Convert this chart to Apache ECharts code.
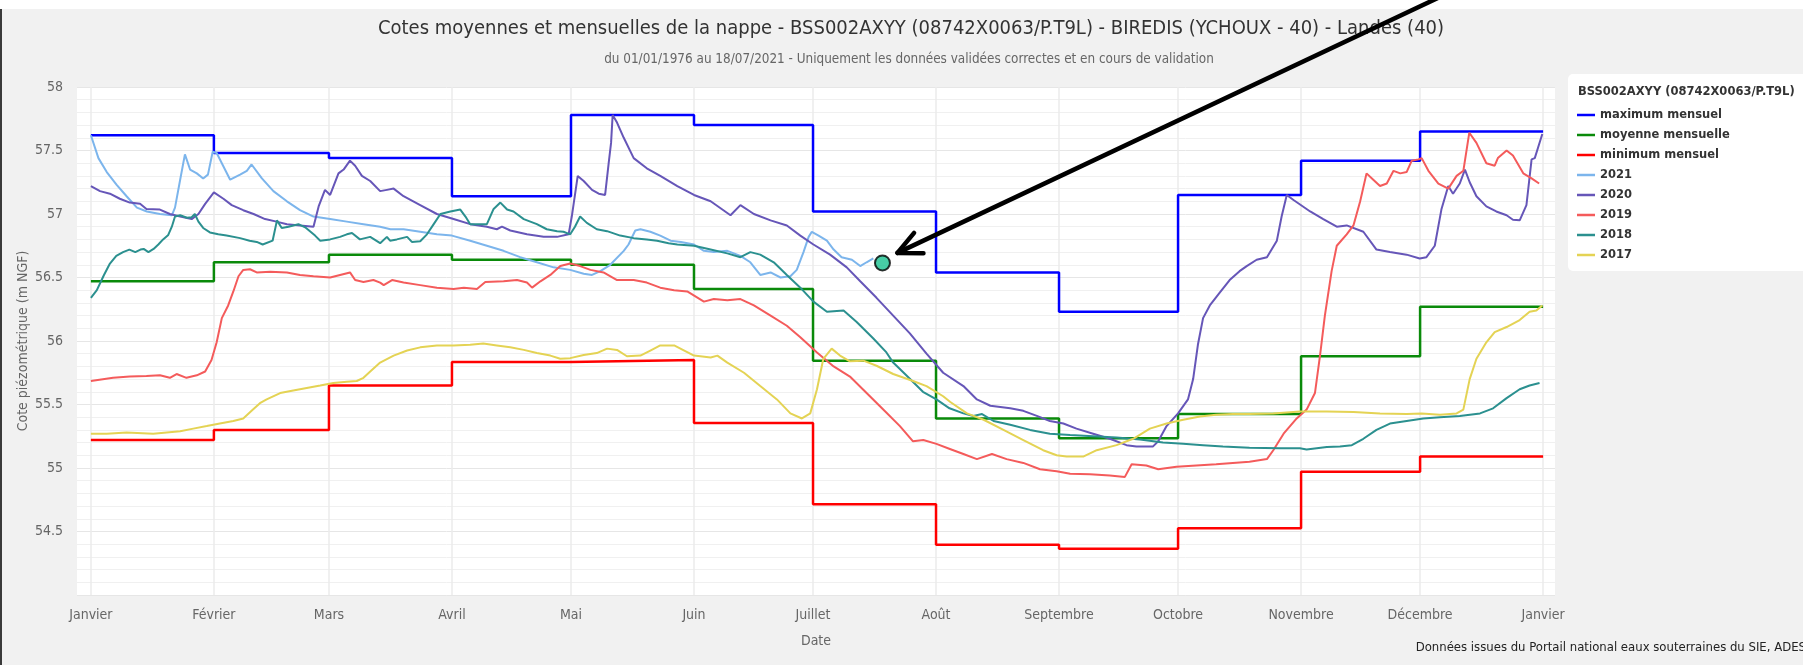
<!DOCTYPE html>
<html lang="fr">
<head>
    <meta charset="UTF-8">
    <title>Cotes moyennes et mensuelles de la nappe - BSS002AXYY</title>
    <script src="https://cdn.jsdelivr.net/npm/echarts@6/dist/echarts.min.js"></script>
    <style>
        html, body { margin: 0; padding: 0; background: #f1f1f1; }
        #chart { width: 1803px; height: 665px; }
    </style>
</head>
<body>
<div id="chart"></div>
<script>
    // jours depuis le 1er janvier (annee bissextile), debut de chaque mois
    const monthStarts = [0, 31, 60, 91, 121, 152, 182, 213, 244, 274, 305, 335, 366];
    const monthNames = ['Janvier', 'Février', 'Mars', 'Avril', 'Mai', 'Juin', 'Juillet',
        'Août', 'Septembre', 'Octobre', 'Novembre', 'Décembre', 'Janvier'];

    const yTicks = [54, 54.5, 55, 55.5, 56, 56.5, 57, 57.5, 58];

    // valeurs mensuelles (m NGF)
    const maxMensuel = [57.62, 57.48, 57.44, 57.14, 57.78, 57.70, 57.02, 56.54, 56.23, 57.15, 57.42, 57.65];
    const moyMensuelle = [56.47, 56.62, 56.68, 56.64, 56.60, 56.41, 55.845, 55.39, 55.235, 55.425, 55.88, 56.27];
    const minMensuel = [55.22, 55.30, 55.65, 55.835, 55.85, 55.355, 54.715, 54.395, 54.365, 54.525, 54.97, 55.09];

    // chroniques annuelles : [jour, cote]
    const y2021 = [[0,57.62],[1.9,57.44],[4,57.33],[6.5,57.23],[9,57.14],[11.6,57.05],[14.1,57.02],[17.4,57.0],[20.4,56.99],[21.2,57.05],[22.5,57.27],[23.7,57.47],[25,57.35],[26.7,57.32],[28.3,57.28],[29.5,57.31],[30.7,57.49],[31.7,57.48],[33,57.4],[35.1,57.27],[37.6,57.31],[39.3,57.34],[40.5,57.39],[43.1,57.28],[46,57.18],[49.4,57.1],[52.7,57.03],[56.1,56.98],[60.3,56.96],[64.5,56.94],[68.7,56.92],[72.9,56.9],[75.5,56.88],[78.8,56.88],[83,56.86],[87.2,56.84],[91,56.83],[95.6,56.79],[99.8,56.75],[104,56.71],[108.2,56.66],[112.4,56.62],[116.6,56.58],[120.8,56.56],[124.2,56.53],[126.3,56.52],[128.4,56.55],[130.9,56.6],[134.3,56.71],[135.5,56.76],[137.2,56.87],[138.5,56.88],[141,56.86],[143.5,56.83],[146.1,56.79],[148.7,56.78],[152,56.76],[154.5,56.71],[157,56.7],[160.4,56.71],[163.7,56.67],[166.2,56.62],[168.7,56.52],[171.3,56.54],[173.8,56.5],[176.3,56.51],[177.9,56.56],[179.6,56.7],[180.9,56.82],[181.7,56.86],[183.4,56.83],[185.5,56.79],[187.2,56.72],[189.2,56.66],[191.8,56.64],[193.9,56.59],[195.5,56.62],[197.2,56.65]];

    const y2020 = [[0,57.22],[2.3,57.18],[4.8,57.16],[7.3,57.12],[9.8,57.09],[12.4,57.08],[14,57.04],[17.4,57.035],[19.9,57.0],[22.5,56.98],[25.4,56.96],[27.1,57.0],[28.8,57.08],[31,57.17],[33.4,57.12],[35.5,57.07],[38.4,57.03],[41,57.0],[43.9,56.96],[46.8,56.94],[49.4,56.92],[52.7,56.91],[56.1,56.9],[57.4,57.06],[59,57.19],[60.3,57.15],[62.4,57.32],[63.7,57.35],[65.3,57.42],[66.6,57.38],[68.3,57.3],[70.4,57.26],[72.9,57.18],[74.6,57.19],[76.3,57.2],[78.8,57.14],[83,57.07],[87.2,57.0],[91.4,56.96],[95.6,56.92],[99.8,56.9],[102.3,56.88],[103.6,56.9],[105.7,56.87],[109.9,56.84],[114.1,56.82],[117.5,56.82],[120.4,56.84],[121.2,56.98],[122.7,57.3],[124.2,57.26],[126.3,57.19],[128,57.16],[129.6,57.15],[130.5,57.4],[131.1,57.56],[131.5,57.78],[132.6,57.72],[134.3,57.6],[136.8,57.44],[140.1,57.36],[143.5,57.3],[147.8,57.22],[152,57.15],[156.2,57.1],[161.2,56.99],[163.7,57.07],[167.1,57.0],[171.3,56.95],[175.4,56.91],[178.8,56.83],[182.1,56.76],[186.3,56.68],[190.5,56.58],[193.9,56.47],[198,56.34],[202.2,56.2],[206.4,56.06],[210.6,55.9],[214.8,55.75],[219.9,55.645],[223.3,55.54],[226.7,55.49],[231.7,55.47],[235,55.45],[238.4,55.41],[241.7,55.37],[245.1,55.35],[248.4,55.31],[252.6,55.27],[256.8,55.23],[261,55.18],[263.5,55.17],[267.7,55.17],[269,55.21],[271.1,55.33],[274,55.43],[276.5,55.54],[277.8,55.7],[279,55.97],[280.3,56.18],[282,56.28],[284.5,56.38],[287,56.48],[289.5,56.55],[291.3,56.59],[293.8,56.64],[296.4,56.66],[298.9,56.79],[300.1,56.98],[301.4,57.15],[303.1,57.11],[307.3,57.02],[310.6,56.96],[314,56.9],[316.5,56.91],[320.7,56.86],[324,56.72],[327.4,56.7],[331.6,56.68],[334.9,56.65],[336.6,56.66],[338.7,56.75],[340.4,57.04],[342.1,57.22],[343.3,57.16],[345,57.24],[346.3,57.35],[347.5,57.25],[349.2,57.14],[351.7,57.06],[354.2,57.02],[356.8,56.99],[358.4,56.955],[360.1,56.95],[361.8,57.07],[363.1,57.43],[363.9,57.44],[364.7,57.52],[365.8,57.63]];

    const y2019 = [[0,55.685],[5.6,55.71],[9.8,55.72],[14,55.725],[17.4,55.73],[19.9,55.71],[21.6,55.74],[24.1,55.71],[26.7,55.73],[28.8,55.76],[30.4,55.85],[31.7,55.99],[33,56.18],[34.6,56.28],[35.9,56.39],[37.2,56.51],[38.4,56.56],[40.1,56.565],[41.8,56.54],[45.2,56.545],[49.4,56.54],[52.7,56.52],[56.1,56.51],[60.3,56.5],[62.8,56.52],[65.3,56.54],[66.6,56.48],[68.7,56.465],[71.2,56.48],[72.9,56.46],[73.8,56.44],[75.9,56.48],[78.8,56.46],[83,56.44],[87.2,56.42],[91.4,56.41],[94,56.42],[97.3,56.41],[99.4,56.465],[104,56.47],[107.4,56.48],[109.9,56.46],[111.2,56.42],[113.3,56.47],[115.8,56.52],[118.3,56.59],[120.8,56.61],[123.3,56.59],[125.9,56.56],[129.2,56.54],[132.6,56.48],[136.8,56.48],[140.1,56.46],[143.5,56.42],[147,56.4],[150.3,56.39],[154.5,56.31],[157,56.33],[160.4,56.32],[163.7,56.33],[167.1,56.28],[171.3,56.2],[175.4,56.12],[178.8,56.03],[183,55.91],[187.2,55.8],[191.3,55.72],[195.5,55.59],[199.7,55.46],[203.9,55.33],[207.2,55.21],[209.8,55.22],[213.1,55.19],[216.5,55.15],[219.9,55.11],[223.3,55.07],[227.1,55.11],[230.8,55.07],[235,55.04],[239.2,54.99],[243.4,54.975],[246.8,54.955],[251.8,54.95],[256.8,54.94],[260.6,54.93],[262.3,55.03],[266,55.02],[269,54.99],[273.6,55.01],[278.6,55.02],[283.6,55.03],[287.8,55.04],[292,55.05],[296.4,55.07],[298,55.14],[300.6,55.27],[303.9,55.39],[306.4,55.46],[308.5,55.59],[309.8,55.89],[311,56.2],[312.7,56.55],[314,56.75],[316.5,56.84],[318.2,56.91],[319.9,57.1],[321.5,57.32],[323.2,57.27],[324.9,57.22],[326.6,57.24],[328.3,57.34],[330,57.32],[331.6,57.33],[332.9,57.42],[334.6,57.43],[335.4,57.44],[337.1,57.34],[339.6,57.24],[342.1,57.2],[344.2,57.3],[345.9,57.34],[347.4,57.64],[349.2,57.56],[351.7,57.4],[353.8,57.38],[354.6,57.44],[356.8,57.5],[358.4,57.46],[361,57.32],[363.1,57.28],[365,57.24]];

    const y2018 = [[0,56.34],[1.5,56.4],[3.3,56.52],[4.8,56.61],[6.4,56.67],[8.1,56.7],[9.7,56.72],[11.2,56.7],[12.5,56.72],[13.3,56.725],[14.5,56.7],[15.8,56.725],[17,56.76],[18.2,56.8],[19.5,56.835],[20.4,56.9],[21.2,56.98],[22.5,56.99],[24.2,56.97],[25.4,56.975],[26.2,57.0],[27.1,56.94],[28.3,56.89],[30,56.855],[32.1,56.84],[34.2,56.83],[37.6,56.81],[40,56.79],[41.8,56.78],[43.3,56.76],[45.8,56.79],[46.9,56.95],[48.1,56.89],[49.8,56.9],[52.3,56.92],[54,56.895],[56.5,56.83],[57.8,56.79],[60.3,56.8],[62.8,56.82],[64.5,56.84],[65.8,56.85],[67.8,56.8],[70.4,56.82],[72.9,56.77],[74.6,56.82],[75.4,56.79],[77.1,56.8],[79.7,56.82],[80.9,56.78],[83,56.785],[84.7,56.84],[86.4,56.92],[88.1,57.0],[90.6,57.02],[93.1,57.035],[94.4,56.98],[95.6,56.92],[97.3,56.92],[99.8,56.92],[101.5,57.04],[103.2,57.09],[104.9,57.035],[106.5,57.02],[109.1,56.96],[112.4,56.92],[114.9,56.88],[117.5,56.865],[119.1,56.86],[120.8,56.84],[122,56.9],[123.3,56.98],[125,56.93],[127.5,56.88],[130.1,56.865],[133.4,56.83],[136.8,56.81],[140.1,56.8],[142.7,56.79],[145.6,56.77],[147.8,56.76],[152,56.75],[156.2,56.72],[160.4,56.69],[163.7,56.66],[166.2,56.7],[168.7,56.68],[172.1,56.62],[175.4,56.52],[178.8,56.42],[182.1,56.31],[185.5,56.23],[189.7,56.24],[193,56.15],[197.2,56.02],[200.5,55.91],[202.2,55.83],[205.5,55.73],[209.7,55.6],[213.1,55.54],[216.4,55.47],[219.9,55.43],[222.4,55.41],[224.6,55.425],[227.5,55.37],[231.7,55.34],[236.7,55.3],[241.7,55.27],[246.8,55.26],[252.6,55.25],[258.5,55.24],[264.4,55.225],[270.2,55.2],[275.3,55.19],[280.3,55.18],[285.3,55.17],[292,55.16],[299.7,55.155],[304.7,55.155],[306.4,55.145],[311.5,55.165],[314.8,55.17],[317.8,55.18],[320.7,55.23],[324,55.3],[327.4,55.35],[331.6,55.37],[335.8,55.39],[340,55.4],[345,55.41],[350.1,55.43],[353.4,55.47],[356.8,55.55],[360.1,55.62],[362.6,55.65],[365.1,55.67]];

    const y2017 = [[0,55.27],[4,55.27],[9,55.28],[15.7,55.27],[19.1,55.28],[22.5,55.29],[25.8,55.31],[29.2,55.33],[32.5,55.35],[35.9,55.37],[38.4,55.39],[40.5,55.45],[42.6,55.51],[44.3,55.54],[47.7,55.59],[51,55.61],[54.4,55.63],[57.8,55.65],[61.1,55.67],[64.5,55.68],[67,55.685],[68.7,55.71],[70.4,55.76],[72.9,55.83],[76.3,55.885],[79.7,55.925],[83,55.95],[87.2,55.965],[91.4,55.965],[95.6,55.97],[98.9,55.98],[102.3,55.965],[105.7,55.95],[109.1,55.93],[112.4,55.905],[115.8,55.885],[118.3,55.86],[120.8,55.865],[124.2,55.89],[127.5,55.905],[130.1,55.94],[132.6,55.93],[135.1,55.88],[138.5,55.885],[141,55.925],[143.5,55.965],[147,55.965],[152,55.885],[156.2,55.87],[157.9,55.885],[160.4,55.83],[164.6,55.75],[168.7,55.645],[172.9,55.54],[176.3,55.43],[179.2,55.39],[181.3,55.43],[183,55.62],[184.6,55.86],[186.7,55.94],[188.8,55.885],[191.3,55.84],[194.7,55.845],[198,55.805],[202.2,55.74],[207.2,55.685],[210.6,55.645],[214.8,55.565],[216.6,55.52],[220.8,55.43],[225,55.38],[230,55.3],[235,55.22],[240,55.14],[243.4,55.1],[245.9,55.09],[250.1,55.09],[253.5,55.14],[258.5,55.18],[262.7,55.23],[266.9,55.31],[271.1,55.35],[275.3,55.38],[279.5,55.405],[283.6,55.42],[287.8,55.425],[292,55.425],[298,55.43],[304.7,55.445],[311.5,55.445],[318.2,55.44],[324.9,55.43],[331.6,55.425],[335.4,55.43],[340,55.42],[344.2,55.43],[345.9,55.46],[347.5,55.7],[349.2,55.86],[351.7,55.99],[353.8,56.07],[356.8,56.11],[360.1,56.165],[362.6,56.23],[364.3,56.24],[365.8,56.28]];

    // derniere mesure (18/07/2021)
    const lastPoint = [[199.5, 56.615]];

    const narrow = '"Liberation Sans Narrow", "DejaVu Sans Condensed", "Open Sans", sans-serif';
    const legendFont = '"DejaVu Sans", Verdana, sans-serif';

    const chart = echarts.init(document.getElementById('chart'));

    function stepSeries(name, values, color) {
        return {
            name: name,
            type: 'line',
            step: 'end',
            symbol: 'none',
            data: monthStarts.map((d, i) => [d, values[Math.min(i, values.length - 1)]]),
            lineStyle: { color: color, width: 2.5 },
            itemStyle: { color: color }
        };
    }

    function yearSeries(name, data, color) {
        return {
            name: name,
            type: 'line',
            symbol: 'none',
            data: data,
            lineStyle: { color: color, width: 2 },
            itemStyle: { color: color }
        };
    }

    const legendNames = ['maximum mensuel', 'moyenne mensuelle', 'minimum mensuel', '2021', '2020', '2019', '2018', '2017'];

    const staticGraphics = [
        { id: 'topStrip', type: 'rect', shape: { x: 0, y: 0, width: 1803, height: 9 }, style: { fill: '#fff' }, z: -10 },
        { id: 'leftEdge', type: 'rect', shape: { x: 0, y: 9, width: 2, height: 656 }, style: { fill: '#3a3a3a' }, z: 100 },
        {
            id: 'title', type: 'text', x: 911, y: 29,
            style: {
                text: 'Cotes moyennes et mensuelles de la nappe - BSS002AXYY (08742X0063/P.T9L) - BIREDIS (YCHOUX - 40) - Landes (40)',
                font: '20px ' + narrow, fill: '#333', align: 'center', verticalAlign: 'middle'
            }
        },
        {
            id: 'subtitle', type: 'text', x: 909, y: 60,
            style: {
                text: 'du 01/01/1976 au 18/07/2021 - Uniquement les données validées correctes et en cours de validation',
                font: '13.4px ' + narrow, fill: '#666', align: 'center', verticalAlign: 'middle'
            }
        },
        {
            id: 'credits', type: 'text', x: 1806, y: 648,
            style: {
                text: 'Données issues du Portail national eaux souterraines du SIE, ADES',
                font: '13px ' + narrow, fill: '#222', align: 'right', verticalAlign: 'middle'
            }
        },
        { id: 'legendBox', type: 'rect', shape: { x: 1568, y: 74, width: 260, height: 197, r: 5 }, style: { fill: '#fff' }, z: -1 },
        {
            id: 'legendTitle', type: 'text', x: 1578, y: 92,
            style: {
                text: 'BSS002AXYY (08742X0063/P.T9L)',
                font: 'bold 11.5px ' + legendFont, fill: '#333', align: 'left', verticalAlign: 'middle'
            }
        }
    ];

    const option = {
        backgroundColor: '#f1f1f1',
        animation: false,
        grid: {
            left: 77, right: 248, top: 87, bottom: 70,
            show: true, backgroundColor: '#fff', borderWidth: 0
        },
        legend: {
            data: legendNames,
            orient: 'vertical',
            left: 1577,
            top: 108,
            padding: 0,
            itemGap: 6,
            itemWidth: 18,
            itemHeight: 2.5,
            icon: 'rect',
            selectedMode: false,
            textStyle: { color: '#333', fontWeight: 'bold', fontSize: 11.5, fontFamily: legendFont, lineHeight: 14 }
        },
        xAxis: {
            type: 'value',
            min: -3.5,
            max: 369,
            name: 'Date',
            nameLocation: 'middle',
            nameGap: 39,
            nameTextStyle: { color: '#666', fontSize: 14, fontFamily: narrow },
            axisLine: { show: false },
            axisTick: { show: false, customValues: monthStarts },
            axisLabel: {
                customValues: monthStarts,
                color: '#666', fontSize: 14, fontFamily: narrow, margin: 13,
                formatter: v => monthNames[monthStarts.indexOf(Math.round(v))] || ''
            },
            splitLine: { show: true, lineStyle: { color: '#ebebeb', width: 1.5 } }
        },
        yAxis: {
            type: 'value',
            min: yTicks[0],
            max: yTicks[yTicks.length - 1],
            interval: 0.5,
            name: 'Cote piézométrique (m NGF)',
            nameLocation: 'middle',
            nameGap: 47,
            nameMoveOverlap: false,
            nameTextStyle: { color: '#666', fontSize: 14, fontFamily: narrow },
            axisLine: { show: false },
            axisTick: { show: false },
            axisLabel: {
                color: '#666', fontSize: 14, fontFamily: narrow, margin: 14,
                formatter: v => (v === yTicks[0] ? '' : String(v))
            },
            splitLine: { lineStyle: { color: '#e6e6e6', width: 1 } },
            minorTick: { show: false, splitNumber: 5 },
            minorSplitLine: { show: true, lineStyle: { color: '#f0f0f0', width: 1 } }
        },
        graphic: staticGraphics,
        series: [
            stepSeries('maximum mensuel', maxMensuel, '#0000ff'),
            stepSeries('moyenne mensuelle', moyMensuelle, '#0a8a0a'),
            stepSeries('minimum mensuel', minMensuel, '#ff0000'),
            yearSeries('2021', y2021, '#7cb5ec'),
            yearSeries('2020', y2020, '#6656b8'),
            yearSeries('2019', y2019, '#f45b5b'),
            yearSeries('2018', y2018, '#2b908f'),
            yearSeries('2017', y2017, '#e4d354'),
            {
                name: 'derniere mesure',
                type: 'scatter',
                data: lastPoint,
                symbolSize: 15,
                itemStyle: { color: '#19c08f', borderColor: '#000', borderWidth: 2 },
                z: 10
            }
        ]
    };

    chart.setOption(option);

    // fleche vers la derniere mesure
    const p = chart.convertToPixel({ gridIndex: 0 }, lastPoint[0]);
    const tip = [p[0] + 15, p[1] - 10];
    const tail = [1442, -4];
    const len = Math.hypot(tail[0] - tip[0], tail[1] - tip[1]);
    const ux = (tail[0] - tip[0]) / len, uy = (tail[1] - tip[1]) / len;
    const wing = (deg) => {
        const a = deg * Math.PI / 180;
        return [tip[0] + 26 * (ux * Math.cos(a) - uy * Math.sin(a)),
                tip[1] + 26 * (ux * Math.sin(a) + uy * Math.cos(a))];
    };
    chart.setOption({
        graphic: [
            { id: 'arrowLine', type: 'polyline', shape: { points: [tail, tip] },
              style: { stroke: '#000', lineWidth: 4.5, lineCap: 'round' }, z: 100 },
            { id: 'arrowHead', type: 'polyline', shape: { points: [wing(-25), tip, wing(26)] },
              style: { stroke: '#000', lineWidth: 4.5, lineCap: 'round', lineJoin: 'round' }, z: 100 }
        ]
    });
</script>
</body>
</html>
